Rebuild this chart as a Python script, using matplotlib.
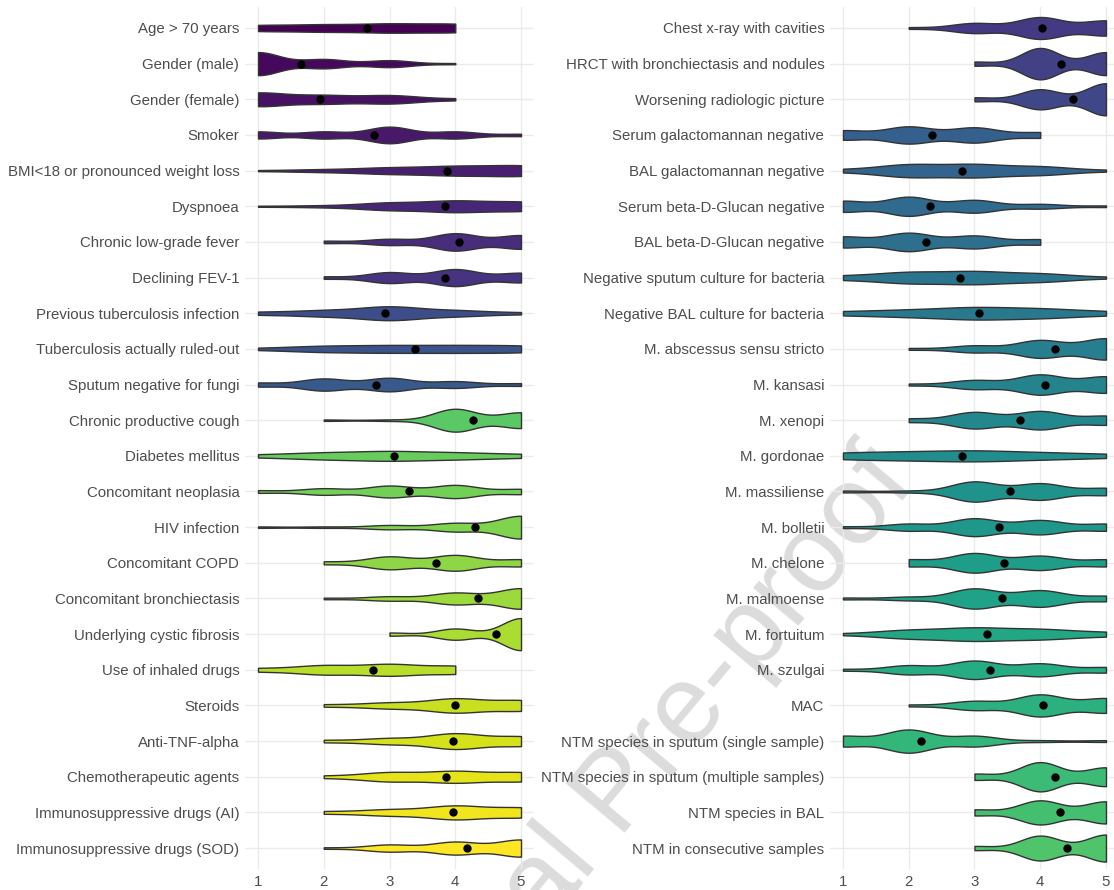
import numpy as np
import matplotlib
matplotlib.use("Agg")
import matplotlib.pyplot as plt

# Likert scores 1..5, number of answers per level for each item
levels = [1, 2, 3, 4, 5]

left_items = [
    "Age > 70 years", "Gender (male)", "Gender (female)", "Smoker",
    "BMI<18 or pronounced weight loss", "Dyspnoea", "Chronic low-grade fever",
    "Declining FEV-1", "Previous tuberculosis infection",
    "Tuberculosis actually ruled-out", "Sputum negative for fungi",
    "Chronic productive cough", "Diabetes mellitus", "Concomitant neoplasia",
    "HIV infection", "Concomitant COPD", "Concomitant bronchiectasis",
    "Underlying cystic fibrosis", "Use of inhaled drugs", "Steroids",
    "Anti-TNF-alpha", "Chemotherapeutic agents",
    "Immunosuppressive drugs (AI)", "Immunosuppressive drugs (SOD)",
]
left_counts = [
    [7, 8, 10, 10, 0],
    [20, 8, 6, 1, 0],
    [15, 9, 9, 2, 0],
    [6, 6, 14, 6, 2],
    [1, 3, 7, 10, 12],
    [1, 2, 8, 12, 10],
    [0, 2, 5, 14, 11],
    [0, 2, 9, 14, 8],
    [3, 6, 14, 6, 2],
    [2, 7, 8, 8, 8],
    [3, 9, 10, 5, 2],
    [0, 1, 1, 16, 11],
    [3, 7, 10, 7, 4],
    [2, 5, 9, 10, 4],
    [1, 1, 3, 6, 16],
    [0, 2, 9, 11, 5],
    [0, 1, 3, 8, 14],
    [0, 0, 2, 7, 20],
    [3, 8, 10, 7, 0],
    [0, 2, 5, 12, 9],
    [0, 2, 5, 13, 8],
    [0, 2, 8, 10, 8],
    [0, 2, 5, 11, 8],
    [0, 1, 5, 9, 12],
]

right_items = [
    "Chest x-ray with cavities", "HRCT with bronchiectasis and nodules",
    "Worsening radiologic picture", "Serum galactomannan negative",
    "BAL galactomannan negative", "Serum beta-D-Glucan negative",
    "BAL beta-D-Glucan negative", "Negative sputum culture for bacteria",
    "Negative BAL culture for bacteria", "M. abscessus sensu stricto",
    "M. kansasi", "M. xenopi", "M. gordonae", "M. massiliense", "M. bolletii",
    "M. chelone", "M. malmoense", "M. fortuitum", "M. szulgai", "MAC",
    "NTM species in sputum (single sample)",
    "NTM species in sputum (multiple samples)", "NTM species in BAL",
    "NTM in consecutive samples",
]
right_counts = [
    [0, 1, 6, 13, 9],
    [0, 0, 2, 15, 11],
    [0, 0, 2, 10, 16],
    [5, 9, 8, 3, 0],
    [2, 9, 9, 6, 1],
    [7, 12, 8, 3, 1],
    [6, 10, 7, 3, 0],
    [3, 8, 9, 6, 1],
    [3, 5, 9, 7, 3],
    [0, 1, 4, 10, 12],
    [0, 1, 5, 11, 9],
    [0, 2, 9, 10, 5],
    [5, 6, 8, 5, 3],
    [1, 1, 11, 9, 4],
    [1, 4, 10, 8, 4],
    [0, 4, 11, 8, 4],
    [1, 2, 11, 9, 3],
    [1, 6, 9, 7, 3],
    [1, 5, 10, 7, 3],
    [0, 1, 5, 12, 8],
    [6, 13, 6, 1, 1],
    [0, 0, 3, 14, 9],
    [0, 0, 3, 12, 11],
    [0, 0, 2, 12, 13],
]

# order of the items on the viridis fill scale
fill_order = (left_items[0:8] + right_items[0:3] + left_items[8:11]
              + right_items[3:] + left_items[11:])
cmap = plt.get_cmap("viridis")
fill_col = {name: cmap(i / (len(fill_order) - 1)) for i, name in enumerate(fill_order)}


def bw_nrd0(x):
    hi = np.std(x, ddof=1)
    q75, q25 = np.percentile(x, [75, 25])
    lo = min(hi, (q75 - q25) / 1.34)
    if not lo:
        lo = hi or abs(x[0]) or 1.0
    return 0.9 * lo * len(x) ** -0.2


def kde(counts):
    x = np.repeat(levels, counts).astype(float)
    bw = bw_nrd0(x)
    grid = np.linspace(x.min(), x.max(), 512)
    dens = np.exp(-0.5 * ((grid[:, None] - x[None, :]) / bw) ** 2).sum(1)
    dens /= len(x) * bw * np.sqrt(2 * np.pi)
    return grid, dens, x.mean()


def violins(ax, items, counts):
    res = [kde(c) for c in counts]
    dmax = max(d.max() for _, d, _ in res)
    for i, (name, (g, d, m)) in enumerate(zip(items, res)):
        w = 0.45 * d / dmax
        ax.fill_between(g, i - w, i + w, facecolor=fill_col[name],
                        edgecolor="#333333", linewidth=1.0, zorder=2)
        ax.plot(m, i, "o", color="black", markersize=5, zorder=3)
    ax.set_yticks(range(len(items)))
    ax.set_yticklabels(items)
    ax.set_ylim(len(items) - 0.4, -0.6)
    ax.set_xlim(0.8, 5.2)
    ax.set_xticks(levels)
    ax.set_facecolor("none")
    ax.grid(True, color="#ebebeb", linewidth=1.0, zorder=0)
    ax.set_axisbelow(True)
    for s in ax.spines.values():
        s.set_visible(False)
    ax.tick_params(length=0, labelsize=10.8, labelcolor="#4d4d4d", pad=4)


plt.rcParams["font.family"] = ["Liberation Sans", "DejaVu Sans"]
fig = plt.figure(figsize=(11.14, 8.9), dpi=100)
ax1 = fig.add_axes([0.2198, 0.0231, 0.2597, 0.9695])
ax2 = fig.add_axes([0.7449, 0.0231, 0.2597, 0.9695])
violins(ax1, left_items, left_counts)
violins(ax2, right_items, right_counts)

# watermark of the source page, partly off the page as in the original
fig.text(0.556, 0.107, "Journal Pre-proof", fontsize=80, color="#dcdcdc",
         rotation=50, ha="center", va="center", zorder=-1)

fig.savefig("out.png", dpi=100)
